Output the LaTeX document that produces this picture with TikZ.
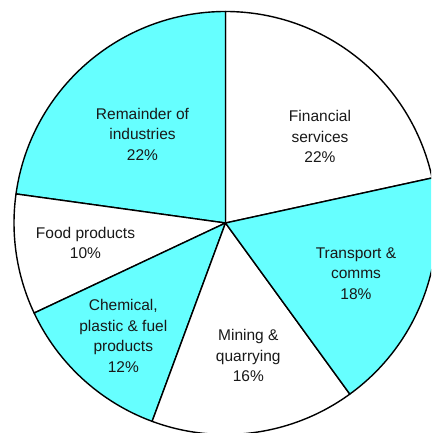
\documentclass[tikz,border=0pt]{standalone}
\usepackage{fontspec}
\setmainfont{Liberation Sans}
\definecolor{piecyan}{RGB}{102,255,255}
\begin{document}
\begin{tikzpicture}[x=1pt,y=1pt,
  slice/.style={draw=black,line width=1.4pt,line join=round},
  lbl/.style={align=center,inner sep=0pt,text=black!90,font=\fontsize{15.5}{20.5}\selectfont}]
\useasboundingbox (0,0) rectangle (431,433);
\fill[white] (0,0) rectangle (431,433);
\clip (0,0) rectangle (431,433);
\coordinate (c) at (225.5,210);
\def\R{211.5}
% slices
\filldraw[slice,fill=white]    (c) -- ++(12.3:\R)  arc[start angle=12.3, end angle=90,   radius=\R] -- cycle;
\filldraw[slice,fill=piecyan]  (c) -- ++(90:\R)    arc[start angle=90,   end angle=172.1, radius=\R] -- cycle;
\filldraw[slice,fill=white]    (c) -- ++(172.1:\R) arc[start angle=172.1, end angle=205.2, radius=\R] -- cycle;
\filldraw[slice,fill=piecyan]  (c) -- ++(205.2:\R) arc[start angle=205.2, end angle=249.7, radius=\R] -- cycle;
\filldraw[slice,fill=white]    (c) -- ++(249.7:\R) arc[start angle=249.7, end angle=306,   radius=\R] -- cycle;
\filldraw[slice,fill=piecyan]  (c) -- ++(306:\R)   arc[start angle=306,   end angle=372.3, radius=\R] -- cycle;
% labels
\node[lbl] (rem)   at (142.5,299) {Remainder of\\industries\\22\%};
\node[lbl] (fin)   at (320,296.3) {Financial\\services\\22\%};
\node[lbl] (food)  at (85.5,190.2) {Food products\\10\%};
\node[lbl] (trans) at (356,159.3) {Transport \&\\comms\\18\%};
\node[lbl] (chem)  at (123.3,97.2) {Chemical,\\plastic \& fuel\\products\\12\%};
\node[lbl] (mine)  at (248.3,77.5) {Mining \&\\quarrying\\16\%};
\end{tikzpicture}
\end{document}
